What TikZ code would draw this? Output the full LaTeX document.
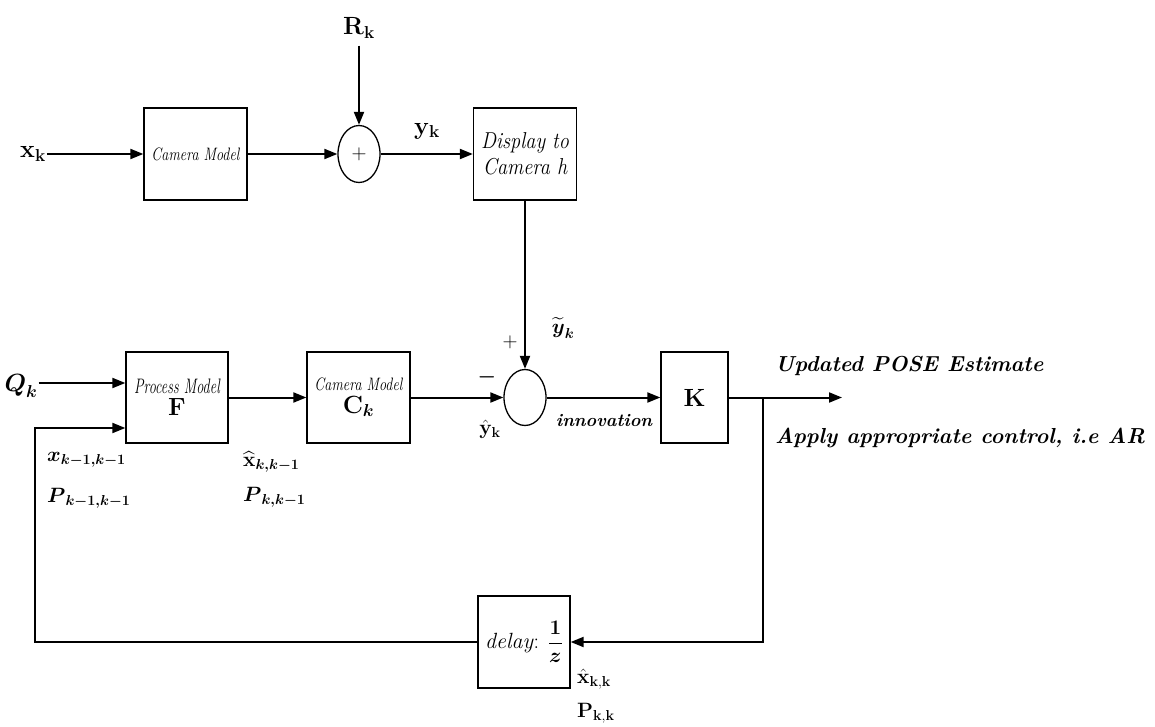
\documentclass[tikz,border=0pt]{standalone}
\usepackage{amsmath}
\usetikzlibrary{arrows.meta,shapes.geometric}
\newcommand{\fs}[1]{\fontsize{#1}{#1}\selectfont}
\newcommand{\cnd}[2]{\scalebox{#1}[1]{#2}}
\begin{document}
\begin{tikzpicture}[x=1pt,y=-1pt,
  blk/.style={draw,line width=1.3pt,inner sep=0pt,align=center},
  sumc/.style={draw,ellipse,line width=1.3pt,inner sep=0pt,minimum width=42pt,minimum height=57pt},
  arr/.style={line width=2pt,-{Triangle[length=13pt,width=10pt]}},
  lbl/.style={inner sep=1pt,font=\fs{24}},
  slbl/.style={inner sep=0pt,font=\fs{21}},
  txt/.style={inner sep=0pt,anchor=west,font=\fs{21.7}\bfseries\itshape}]
\useasboundingbox (0,0) rectangle (1155,727);
% top row
\node[lbl] (xk) at (33,154) {$\mathbf{x}_{\mathbf{k}}$};
\node[blk,minimum width=103pt,minimum height=92pt] (cam1) at (195.5,154) {\cnd{0.79}{\fs{18}\itshape Camera Model}};
\node[sumc] (sum1) at (359,154) {\fs{22}$+$};
\node[lbl] (Rk) at (359,28) {$\mathbf{R}_{\mathbf{k}}$};
\node[blk,minimum width=103pt,minimum height=92pt] (disp) at (525,154) {\cnd{0.88}{\fs{23}\itshape Display to}\\[4pt]\cnd{0.88}{\fs{23}\itshape Camera h}};
\node[lbl] (yk) at (427,131) {$\mathbf{y}_{\mathbf{k}}$};
\draw[arr] (xk.east) -- (cam1.west);
\draw[arr] (cam1.east) -- (sum1.west);
\draw[arr] (Rk.south) ++(0,6) -- (sum1.north);
\draw[arr] (sum1.east) -- (disp.west);
% bottom row
\node[blk,minimum width=102pt,minimum height=91pt] (proc) at (177,397.5) {\cnd{0.68}{\fs{21}\itshape Process Model}\\[4pt]\fs{24}$\mathbf{F}$};
\node[blk,minimum width=103pt,minimum height=91pt] (cam2) at (358.5,397.5) {\cnd{0.79}{\fs{18}\itshape Camera Model}\\[4pt]\fs{24}$\mathbf{C}_{\boldsymbol{k}}$};
\node[sumc,minimum height=56pt] (sum2) at (525,397.5) {};
\node[blk,minimum width=67pt,minimum height=91pt] (K) at (694.5,397.5) {\fs{24}$\mathbf{K}$};
\node[blk,minimum width=92pt,minimum height=92pt] (delay) at (524,642) {\fs{22}\textit{delay}: $\dfrac{\mathbf{1}}{\boldsymbol{z}}$};
\node[inner sep=1pt,font=\fs{23}] (Qk) at (21,386) {$\boldsymbol{Q}_{\boldsymbol{k}}$};
\coordinate (qin) at (proc.west |- 0,383);
\coordinate (jn) at (763,397.5);
\coordinate (out) at (842,397.5);
\coordinate (fin) at (35,428);
\coordinate (pin) at (proc.west |- fin);
\draw[arr] (Qk.east |- qin) -- (qin);
\draw[arr] (proc.east) -- (cam2.west);
\draw[arr] (cam2.east) -- (sum2.west);
\draw[arr] (disp.south) -- (sum2.north);
\draw[arr] (sum2.east) -- (K.west);
\draw[arr] (K.east) -- (out);
\draw[arr] (jn) |- (delay.east);
\draw[arr] (delay.west) -| (fin) -- (pin);
% labels
\node[slbl] (plus) at (510,342) {$\mathbf{+}$};
\node[slbl] (minus) at (487,377) {$\boldsymbol{-}$};
\node[slbl] (ytil) at (563,328) {$\widetilde{\boldsymbol{y}}_{\boldsymbol{k}}$};
\node[slbl] (yhat) at (490,429) {$\hat{\mathbf{y}}_{\mathbf{k}}$};
\node[inner sep=0pt,font=\fs{18}\bfseries\itshape] (innov) at (604,421) {innovation};
\node[txt] (upd) at (775,366) {Updated POSE Estimate};
\node[txt] (apply) at (775,438) {Apply appropriate control, i.e AR};
\node[slbl,anchor=west] (xprev) at (47,460) {$\boldsymbol{x}_{\boldsymbol{k-1,k-1}}$};
\node[slbl,anchor=west] (Pprev) at (47,498) {$\boldsymbol{P}_{\boldsymbol{k-1,k-1}}$};
\node[slbl,anchor=west] (xpred) at (243,462) {$\widehat{\mathbf{x}}_{\boldsymbol{k,k-1}}$};
\node[slbl,anchor=west] (Ppred) at (243,497) {$\boldsymbol{P}_{\boldsymbol{k,k-1}}$};
\node[slbl,anchor=west] (xupd) at (577,679) {$\hat{\mathbf{x}}_{\mathbf{k,k}}$};
\node[slbl,anchor=west] (Pupd) at (577,713) {$\mathbf{P}_{\mathbf{k,k}}$};
\end{tikzpicture}
\end{document}
